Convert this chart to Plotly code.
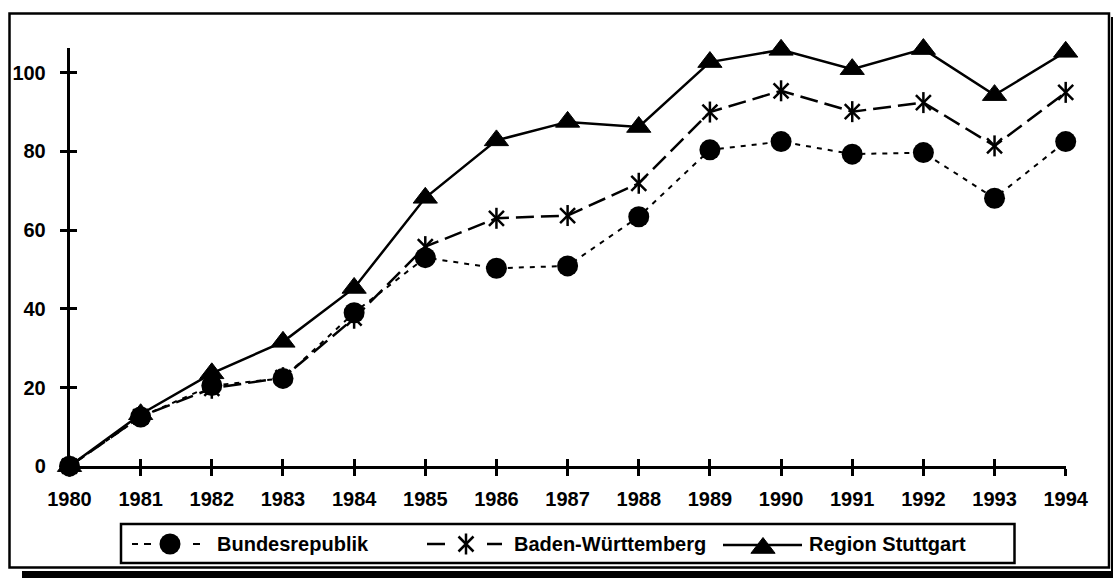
import plotly.graph_objects as go

# Index series, 1980 = 0
years = list(range(1980, 1995))
bundesrepublik = [0, 12.5, 20.5, 22.3, 39.0, 53.0, 50.3, 50.9, 63.4, 80.4, 82.5, 79.3, 79.7, 68.1, 82.5]
baden_wuerttemberg = [0, 12.6, 19.8, 22.5, 37.6, 55.8, 63.0, 63.7, 71.9, 90.0, 95.4, 90.1, 92.4, 81.4, 95.0]
region_stuttgart = [0, 13.2, 23.6, 31.6, 45.3, 68.2, 82.8, 87.5, 86.2, 102.7, 105.8, 100.9, 106.0, 94.3, 105.3]
y_ticks = [0, 20, 40, 60, 80, 100]
series_names = ["Bundesrepublik", "Baden-Württemberg", "Region Stuttgart"]

W, H = 1113, 578
FONT = dict(family="Liberation Sans, Arial, sans-serif", size=20, color="black", weight="bold")


def fx(p):
    """pixel x -> paper x"""
    return p / W


def fy(p):
    """pixel y (from top) -> paper y"""
    return 1 - p / H


PLOT_L, PLOT_R = 69.5, 1065.7
PLOT_T, PLOT_B = 48.3, 466.2
Y_MAX = 106.2

STAR = dict(size=15, color="black", line=dict(color="black", width=2.5))

fig = go.Figure()

# data series
fig.add_trace(go.Scatter(
    x=years, y=bundesrepublik, mode="lines+markers", cliponaxis=False,
    line=dict(color="black", width=2, dash="5px,6px"),
    marker=dict(symbol="circle", size=21, color="black"),
    name=series_names[0], showlegend=False))
fig.add_trace(go.Scatter(
    x=years, y=region_stuttgart, mode="lines+markers", cliponaxis=False,
    line=dict(color="black", width=2.5),
    marker=dict(symbol="triangle-up", size=21, color="black", line=dict(color="black", width=1)),
    name=series_names[2], showlegend=False))
fig.add_trace(go.Scatter(
    x=years, y=baden_wuerttemberg, mode="lines+markers", cliponaxis=False,
    line=dict(color="black", width=2.5, dash="18px,7px"),
    marker=dict(symbol="x-thin-open", **STAR),
    name=series_names[1], showlegend=False))
fig.add_trace(go.Scatter(
    x=years, y=baden_wuerttemberg, mode="markers", cliponaxis=False,
    marker=dict(symbol="line-ns-open", **STAR),
    hoverinfo="skip", showlegend=False))

# helper traces so the inner-tick axes exist
fig.add_trace(go.Scatter(x=[], y=[], xaxis="x3", yaxis="y", showlegend=False))
fig.add_trace(go.Scatter(x=[], y=[], xaxis="x", yaxis="y3", showlegend=False))

# legend glyphs on a pixel-space overlay axis
LEG_Y = 544
glyph = dict(xaxis="x2", yaxis="y2", showlegend=False, hoverinfo="skip", cliponaxis=False)
fig.add_trace(go.Scatter(x=[132, 138, None, 144, 151, None, 193, 200],
                         y=[LEG_Y, LEG_Y, None, LEG_Y, LEG_Y, None, LEG_Y, LEG_Y],
                         mode="lines", line=dict(color="black", width=2), **glyph))
fig.add_trace(go.Scatter(x=[170], y=[LEG_Y], mode="markers",
                         marker=dict(symbol="circle", size=21, color="black"), **glyph))
fig.add_trace(go.Scatter(x=[427, 445, None, 487, 502],
                         y=[LEG_Y, LEG_Y, None, LEG_Y, LEG_Y],
                         mode="lines", line=dict(color="black", width=2.5), **glyph))
fig.add_trace(go.Scatter(x=[466], y=[LEG_Y], mode="markers",
                         marker=dict(symbol="x-thin-open", **STAR), **glyph))
fig.add_trace(go.Scatter(x=[466], y=[LEG_Y], mode="markers",
                         marker=dict(symbol="line-ns-open", **STAR), **glyph))
fig.add_trace(go.Scatter(x=[723, 802], y=[LEG_Y + 1, LEG_Y + 1],
                         mode="lines", line=dict(color="black", width=2.5), **glyph))
fig.add_trace(go.Scatter(x=[763], y=[LEG_Y + 4], mode="markers",
                         marker=dict(symbol="triangle-up", size=21, color="black",
                                     line=dict(color="black", width=1)), **glyph))

for name, x0 in zip(series_names, [215, 512, 807]):
    fig.add_annotation(x=fx(x0), y=fy(LEG_Y), xref="paper", yref="paper",
                       xanchor="left", yanchor="middle", showarrow=False,
                       text=name, font=FONT)

shapes = [
    # outer frame
    dict(type="rect", xref="paper", yref="paper", x0=fx(9.5), x1=fx(1109), y0=fy(567.5), y1=fy(13.5),
         line=dict(color="black", width=2.5), layer="below"),
    # drop shadow
    dict(type="rect", xref="paper", yref="paper", x0=fx(1111), x1=fx(1113), y0=fy(578), y1=fy(17),
         line=dict(width=0), fillcolor="black"),
    dict(type="rect", xref="paper", yref="paper", x0=fx(22), x1=fx(1113), y0=fy(578), y1=fy(571),
         line=dict(width=0), fillcolor="black"),
    # legend box
    dict(type="rect", xref="paper", yref="paper", x0=fx(121), x1=fx(1014.5), y0=fy(563), y1=fy(524),
         line=dict(color="black", width=2.5), layer="below"),
]

x_dom = [fx(PLOT_L), fx(PLOT_R)]
y_dom = [fy(PLOT_B), fy(PLOT_T)]

axis_common = dict(showgrid=False, zeroline=False, ticks="outside", ticklen=7, tickwidth=2.5,
                   tickcolor="black", showline=True, linecolor="black", linewidth=2.5,
                   tickfont=FONT, fixedrange=True, automargin=False)
inner_ticks = dict(ticks="inside", ticklen=7, tickwidth=2.5, tickcolor="black",
                   showticklabels=False, showline=False, showgrid=False, zeroline=False,
                   fixedrange=True, automargin=False)
hidden = dict(visible=False, fixedrange=True, automargin=False, showgrid=False, zeroline=False)

fig.update_layout(
    template="none",
    width=W, height=H, autosize=False,
    margin=dict(l=0, r=0, t=0, b=0, pad=0),
    paper_bgcolor="white", plot_bgcolor="rgba(0,0,0,0)",
    showlegend=False,
    shapes=shapes,
    xaxis=dict(domain=x_dom, range=[1980, 1994], tickvals=years, anchor="y",
               ticklabelstandoff=6, **axis_common),
    yaxis=dict(domain=y_dom, range=[0, Y_MAX], tickvals=y_ticks, anchor="x",
               ticklabelstandoff=10, **axis_common),
    xaxis3=dict(overlaying="x", anchor="y", range=[1980, 1994], tickvals=years, **inner_ticks),
    yaxis3=dict(overlaying="y", anchor="x", side="left", range=[0, Y_MAX], tickvals=y_ticks,
                **inner_ticks),
    xaxis2=dict(domain=[0, 1], range=[0, W], anchor="y2", **hidden),
    yaxis2=dict(domain=[0, 1], range=[H, 0], anchor="x2", **hidden),
)

fig.write_html("out.html")
